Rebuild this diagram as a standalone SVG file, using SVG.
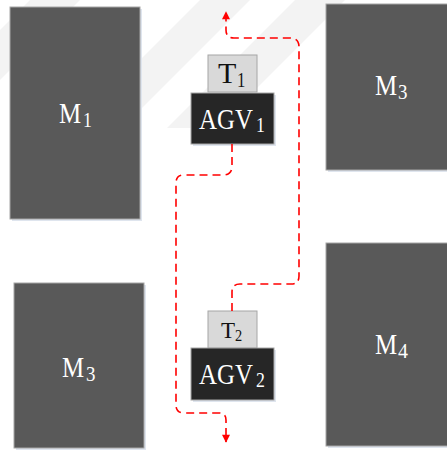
<svg xmlns="http://www.w3.org/2000/svg" width="447" height="450" viewBox="0 0 447 450">
  <defs>
    <style>
      .bg { fill: #ffffff; }
      .band { fill: #f3f3f3; }
      .shadow { fill: #dfe5ee; }
      .machine { fill: #595959; stroke: #a6a6a6; stroke-width: 1; }
      .agv { fill: #262626; stroke: #a6a6a6; stroke-width: 1; }
      .tool { fill: #d9d9d9; stroke: #a6a6a6; stroke-width: 1; }
      .lbl { font-family: "Liberation Serif", "DejaVu Serif", serif; font-size: 30px; }
      .sub { font-family: "Liberation Serif", "DejaVu Serif", serif; font-size: 21px; }
      .light { fill: #ffffff; }
      .dark { fill: #111111; }
      .route { fill: none; stroke: #ff0000; stroke-width: 1.6; stroke-dasharray: 8 5; }
    </style>
    <marker id="arrow" viewBox="0 0 10 10" refX="9" refY="5" markerWidth="10" markerHeight="8" markerUnits="userSpaceOnUse" orient="auto">
      <path d="M0,0 L10,5 L0,10 Z" fill="#ff0000"/>
    </marker>
  </defs>

  <rect class="bg" x="0" y="0" width="447" height="450"/>

  <!-- faint diagonal background bands -->
  <g id="background-bands">
    <polygon class="band" points="0,30 30,0 80,0 0,80"/>
    <polygon class="band" points="140,60 200,0 250,0 140,110"/>
    <polygon class="band" points="167,128 295,0 345,0 217,128"/>
  </g>

  <!-- machines -->
  <g id="m1">
    <rect class="shadow" x="12" y="9" width="130" height="212"/>
    <rect class="machine" x="10" y="7" width="130" height="212"/>
    <text class="lbl light" transform="translate(59,123) scale(0.83,1)">M</text>
    <text class="sub light" transform="translate(83,127) scale(0.85,1)">1</text>
  </g>
  <g id="m3-top">
    <rect class="shadow" x="328" y="6" width="121" height="166"/>
    <rect class="machine" x="326" y="4" width="125" height="166"/>
    <text class="lbl light" transform="translate(375,95) scale(0.83,1)">M</text>
    <text class="sub light" transform="translate(398,99) scale(0.9,1)">3</text>
  </g>
  <g id="m3-bottom">
    <rect class="shadow" x="16" y="285" width="130" height="165"/>
    <rect class="machine" x="14" y="283" width="130" height="165"/>
    <text class="lbl light" transform="translate(62,377) scale(0.83,1)">M</text>
    <text class="sub light" transform="translate(86,381) scale(0.9,1)">3</text>
  </g>
  <g id="m4">
    <rect class="shadow" x="328" y="245" width="121" height="203"/>
    <rect class="machine" x="326" y="243" width="125" height="203"/>
    <text class="lbl light" transform="translate(375,354) scale(0.83,1)">M</text>
    <text class="sub light" transform="translate(398,358) scale(0.95,1)">4</text>
  </g>

  <!-- AGV 1 with its tool -->
  <g id="agv1">
    <rect class="shadow" x="193" y="95" width="83" height="51"/>
    <rect class="tool" x="208" y="55" width="49" height="37"/>
    <rect class="agv" x="191" y="93" width="83" height="51"/>
    <text class="lbl dark" x="218" y="83">T</text>
    <text class="sub dark" transform="translate(237,87) scale(0.8,1)">1</text>
    <text class="lbl light" transform="translate(199,129) scale(0.83,1)">AGV</text>
    <text class="sub light" transform="translate(256,132) scale(0.85,1)">1</text>
  </g>

  <!-- AGV 2 with its tool -->
  <g id="agv2">
    <rect class="shadow" x="193" y="350" width="83" height="52"/>
    <rect class="tool" x="208" y="311" width="49" height="37"/>
    <rect class="agv" x="191" y="348" width="83" height="52"/>
    <text class="lbl dark" x="221" y="338" style="font-size:23px">T</text>
    <text class="sub dark" transform="translate(235,341) scale(0.9,1)" style="font-size:16px">2</text>
    <text class="lbl light" transform="translate(199,384) scale(0.83,1)">AGV</text>
    <text class="sub light" transform="translate(256,387) scale(0.85,1)">2</text>
  </g>

  <!-- routes -->
  <g id="routes">
    <path class="route" marker-end="url(#arrow)" d="M232,144 V166 Q232,175 223,175 H184 Q176,175 176,183 V405 Q176,413 184,413 H219 Q226,413 226,420 V442"/>
    <path class="route" marker-end="url(#arrow)" d="M232,311 V292 Q232,284 240,284 H291 Q299,284 299,276 V47 Q299,38 290,38 H234 Q226,38 226,30 V12"/>
  </g>
</svg>
